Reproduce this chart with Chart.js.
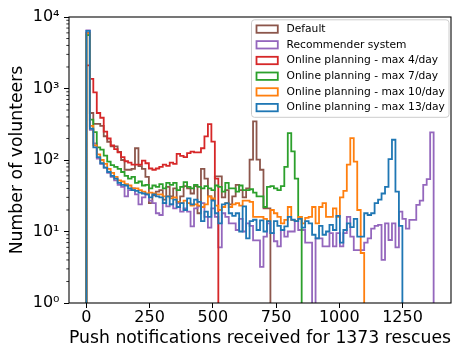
<!DOCTYPE html>
<html>
<head>
<meta charset="utf-8">
<title>Push notifications histogram</title>
<script src="https://cdn.jsdelivr.net/npm/chart.js@4.4.1/dist/chart.umd.min.js"></script>
<style>
  html, body { margin: 0; padding: 0; background: #fff; }
  #wrap { width: 452px; height: 348px; }
</style>
</head>
<body>
<div id="wrap"><canvas id="pushChart" width="452" height="348"></canvas></div>
<script>
// Histogram setup: 100 equal bins over 0..1373 pushes
const N_RESCUES = 1373;
const N_BINS = 100;

const X_TICKS = [0, 250, 500, 750, 1000, 1250];
const Y_TICKS = [1, 10, 100, 1000, 10000];
const Y_TICK_LABELS = ["10\u2070", "10\u00b9", "10\u00b2", "10\u00b3", "10\u2074"];

const SERIES_LABELS = [
  "Default",
  "Recommender system",
  "Online planning - max 4/day",
  "Online planning - max 7/day",
  "Online planning - max 10/day",
  "Online planning - max 13/day"
];
const SERIES_COLORS = ["#8c564b", "#9467bd", "#d62728", "#2ca02c", "#ff7f0e", "#1f77b4"];

// counts per bin, starting at bin 0 (0 = empty bin)
const defaultCounts = [
  6000, 454, 320, 320, 300, 215, 180, 155, 155, 130,
  100, 73, 73, 75, 146, 82, 75, 58, 25, 32,
  36, 38, 28, 42, 31, 40, 26, 31, 43, 40,
  34, 43, 18, 75, 55, 31, 28, 59, 59, 30,
  38, 24, 31, 45, 38, 30, 40, 101, 346, 101,
  73, 21, 21
];
const recommenderCounts = [
  6500, 265, 170, 105, 88, 78, 66, 58, 52, 45,
  42, 31, 38, 40, 33, 24, 30, 33, 27, 25,
  18, 17, 25, 22.5, 24, 21, 25, 19, 21, 19,
  11.8, 21, 22.5, 25, 16, 11.3, 21, 16, 6, 18,
  16, 13, 13, 10.5, 15, 10, 13, 12, 7.5, 7.5,
  3.2, 8.5, 13, 9.5, 7.3, 6.2, 10.5, 8.5, 10, 10,
  14, 10.5, 10.5, 7, 7, 0, 8, 8, 6.2, 6.2,
  9.5, 6.2, 9.5, 6.2, 9.5, 16, 8.5, 5.5, 5.5, 5.5,
  7, 8, 11, 12, 12.4, 4, 13, 7.6, 13, 6,
  19, 15, 11, 14.5, 14.5, 23.5, 27, 45, 54, 243
];
const max4Counts = [
  2100, 1360, 880, 454, 390, 250, 200, 160, 142, 128,
  110, 96, 92, 86, 86, 86, 98, 90, 76, 73,
  76, 80, 86, 83, 92, 88, 122, 114, 110, 125,
  131, 128, 128, 146, 214, 318, 181, 55
];
const max7Counts = [
  5600, 366, 245, 150, 140, 115, 95, 85, 80, 75,
  68, 60, 55, 58, 48, 50, 44, 45, 40, 44,
  42, 46, 40, 48, 45, 48, 38, 42, 49, 42,
  40, 45, 42, 40, 43, 40, 38, 44, 42, 36,
  48, 40, 40, 36, 44, 38, 38, 39, 35, 31,
  31, 22, 42, 43, 40, 38, 43, 80, 238, 132,
  55, 16
];
const max10Counts = [
  5900, 300, 160, 120, 100, 88, 75, 66, 58, 52,
  50, 46, 44, 40, 40, 38, 36, 34, 35, 34,
  33, 33, 31, 31, 29, 30, 26, 25, 27, 25,
  23, 24, 23, 22, 24, 31, 29, 23, 20, 22,
  25, 22, 24, 25, 23, 27, 27, 26, 16, 16,
  16, 15, 14, 20, 18, 16, 13, 14.5, 22, 14.5,
  14, 16, 13, 15.5, 16, 22, 13, 22, 25, 16,
  16, 21, 16, 30, 37, 86, 202, 95, 20, 5
];
const max13Counts = [
  6400, 275, 150, 110, 90, 78, 68, 60, 55, 48,
  45, 44, 40, 38, 37, 35, 34, 33, 30, 33,
  31, 30, 25, 31, 24, 28, 22, 25, 20, 29,
  24, 28, 26, 14, 19, 16, 27, 18, 13, 24,
  25, 18, 16.5, 18, 10, 22.5, 8, 14, 14.6, 10.5,
  14.3, 10, 14, 9.5, 14, 12, 10.5, 11.8, 16, 14.6,
  14, 15, 11.3, 14, 13, 9, 8, 12, 9, 10,
  12.4, 10.5, 16.5, 7, 10.5, 13, 11.5, 15, 8.5, 8.5,
  18, 17, 18, 25, 28, 34, 42, 103, 192, 36,
  12
];

const SERIES_COUNTS = [defaultCounts, recommenderCounts, max4Counts, max7Counts, max10Counts, max13Counts];

// empty bins / baseline sit below the log axis minimum and get clipped
const BASE = 0.5;

// turn bin counts into a step outline like histtype="step"
function stepOutline(counts) {
  const w = N_RESCUES / N_BINS;
  const pts = [{ x: 0, y: BASE }];
  counts.forEach((c, i) => {
    const y = c > 0 ? c : BASE;
    pts.push({ x: i * w, y: y });
    pts.push({ x: (i + 1) * w, y: y });
  });
  pts.push({ x: counts.length * w, y: BASE });
  return pts;
}

const FONT = "'DejaVu Sans', sans-serif";
Chart.defaults.font.family = FONT;
Chart.defaults.color = "#000";

// top/right spines, minor log ticks and the boxed legend
const frameAndLegend = {
  id: "frameAndLegend",
  afterDraw(chart) {
    const { ctx, chartArea: a } = chart;
    const yScale = chart.scales.y;
    ctx.save();

    // spines
    ctx.strokeStyle = "#000";
    ctx.lineWidth = 1.07;
    ctx.strokeRect(a.left, a.top, a.right - a.left, a.bottom - a.top);

    // minor ticks on log axis
    ctx.lineWidth = 0.8;
    ctx.beginPath();
    for (let d = 1; d < 10000; d *= 10) {
      for (let k = 2; k <= 9; k++) {
        const py = yScale.getPixelForValue(d * k);
        ctx.moveTo(a.left, py);
        ctx.lineTo(a.left - 2.7, py);
      }
    }
    ctx.stroke();

    // legend
    const w = 197.5, h = 97.5;
    const x0 = a.right - w - 2, y0 = a.top + 2.8;
    ctx.beginPath();
    ctx.roundRect(x0, y0, w, h, 3);
    ctx.fillStyle = "rgba(255,255,255,0.8)";
    ctx.fill();
    ctx.strokeStyle = "#cccccc";
    ctx.lineWidth = 1;
    ctx.stroke();

    ctx.font = "10.7px " + FONT;
    ctx.textBaseline = "middle";
    ctx.textAlign = "left";
    SERIES_LABELS.forEach((label, i) => {
      const cy = y0 + 9.3 + i * 15.7;
      ctx.strokeStyle = SERIES_COLORS[i];
      ctx.lineWidth = 1.8;
      ctx.strokeRect(x0 + 5, cy - 3.7, 21.3, 7.4);
      ctx.fillStyle = "#000";
      ctx.fillText(label, x0 + 35, cy);
    });
    ctx.restore();
  }
};

const datasets = SERIES_LABELS.map((label, i) => ({
  label: label,
  data: stepOutline(SERIES_COUNTS[i]),
  borderColor: SERIES_COLORS[i],
  borderWidth: 1.8,
  pointRadius: 0,
  fill: false,
  tension: 0,
  // later series drawn on top
  order: SERIES_LABELS.length - 1 - i
}));

const xPad = 0.05 * N_RESCUES;

new Chart(document.getElementById("pushChart"), {
  type: "line",
  data: { datasets: datasets },
  options: {
    responsive: false,
    animation: false,
    events: [],
    layout: { padding: { top: 17, right: 1, left: 0, bottom: 0 } },
    plugins: {
      legend: { display: false },
      tooltip: { enabled: false }
    },
    scales: {
      x: {
        type: "linear",
        min: -xPad,
        max: N_RESCUES + xPad,
        afterBuildTicks: (scale) => { scale.ticks = X_TICKS.map(v => ({ value: v })); },
        afterFit: (scale) => { scale.height = 45; },
        ticks: {
          font: { size: 16 },
          padding: 0,
          maxRotation: 0,
          callback: (value) => String(value)
        },
        grid: { drawOnChartArea: false, drawTicks: true, tickLength: 5, tickColor: "#000", tickWidth: 1 },
        border: { display: false },
        title: {
          display: true,
          text: "Push notifications received for 1373 rescues",
          font: { size: 17.3, lineHeight: 1 },
          padding: { top: 0, bottom: 1 }
        }
      },
      y: {
        type: "logarithmic",
        min: 1,
        max: 10000,
        afterBuildTicks: (scale) => { scale.ticks = Y_TICKS.map(v => ({ value: v })); },
        afterFit: (scale) => { scale.width = 69; },
        ticks: {
          font: { size: 16 },
          padding: 4.5,
          callback: (value, index) => Y_TICK_LABELS[index]
        },
        grid: { drawOnChartArea: false, drawTicks: true, tickLength: 5, tickColor: "#000", tickWidth: 1 },
        border: { display: false },
        title: {
          display: true,
          text: "Number of volunteers",
          font: { size: 17.3, lineHeight: 1 },
          padding: { top: 8.5, bottom: 0 }
        }
      }
    }
  },
  plugins: [frameAndLegend]
});
</script>
</body>
</html>
